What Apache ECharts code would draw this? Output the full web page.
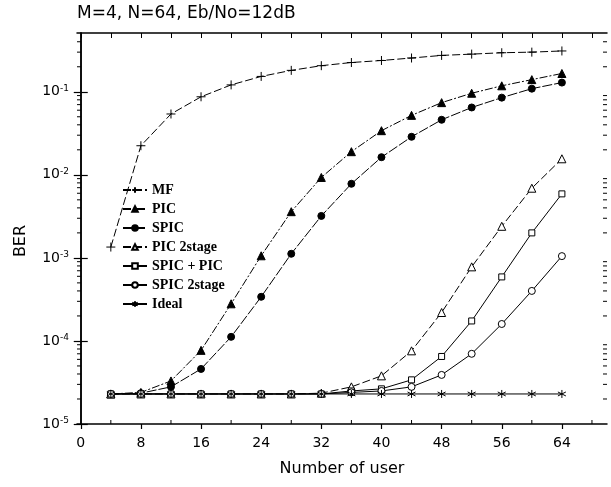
<!DOCTYPE html>
<html>
<head>
<meta charset="utf-8">
<script src="https://cdn.jsdelivr.net/npm/echarts@6/dist/echarts.min.js"></script>
<style>html,body{margin:0;padding:0;background:#fff}#c{width:611px;height:487px}</style>
</head>
<body>
<div id="c"></div>
<script>
// ---- data ----
var users = [4, 8, 12, 16, 20, 24, 28, 32, 36, 40, 44, 48, 52, 56, 60, 64];
var berMF = [1.35e-3, 0.0224, 0.054, 0.087, 0.121, 0.153, 0.181, 0.206, 0.225, 0.238, 0.255, 0.274, 0.284, 0.295, 0.30, 0.31];
var berPIC = [2.3e-5, 2.4e-5, 3.3e-5, 7.7e-5, 2.8e-4, 1.06e-3, 3.6e-3, 9.3e-3, 0.019, 0.034, 0.052, 0.074, 0.096, 0.118, 0.14, 0.166];
var berSPIC = [2.3e-5, 2.35e-5, 2.8e-5, 4.6e-5, 1.12e-4, 3.4e-4, 1.12e-3, 3.2e-3, 7.8e-3, 0.0163, 0.0287, 0.046, 0.0647, 0.085, 0.109, 0.129];
var berPIC2 = [2.3e-5, 2.3e-5, 2.3e-5, 2.3e-5, 2.3e-5, 2.3e-5, 2.3e-5, 2.35e-5, 2.8e-5, 3.8e-5, 7.6e-5, 2.2e-4, 7.8e-4, 2.4e-3, 6.9e-3, 0.0156];
var berSPICPIC = [2.3e-5, 2.3e-5, 2.3e-5, 2.3e-5, 2.3e-5, 2.3e-5, 2.3e-5, 2.3e-5, 2.5e-5, 2.65e-5, 3.4e-5, 6.5e-5, 1.74e-4, 5.9e-4, 2.0e-3, 5.9e-3];
var berSPIC2 = [2.3e-5, 2.3e-5, 2.3e-5, 2.3e-5, 2.3e-5, 2.3e-5, 2.3e-5, 2.3e-5, 2.4e-5, 2.5e-5, 2.8e-5, 3.9e-5, 7.0e-5, 1.6e-4, 4.0e-4, 1.05e-3];
var berIdeal = [2.3e-5, 2.3e-5, 2.3e-5, 2.3e-5, 2.3e-5, 2.3e-5, 2.3e-5, 2.3e-5, 2.3e-5, 2.3e-5, 2.3e-5, 2.3e-5, 2.3e-5, 2.3e-5, 2.3e-5, 2.3e-5];
var seriesNames = ['MF', 'PIC', 'SPIC', 'PIC 2stage', 'SPIC + PIC', 'SPIC 2stage', 'Ideal'];

// ---- ticks ----
var xMajorTicks = [0, 8, 16, 24, 32, 40, 48, 56, 64];
var xMinorTicks = [4, 12, 20, 28, 36, 44, 52, 60, 68];
var xTopTicks = [0, 4, 8, 12, 16, 20, 24, 28, 32, 36, 40, 44, 48, 52, 56, 60, 64, 68];
var yMajorTicks = [1e-5, 1e-4, 1e-3, 1e-2, 1e-1];
var yMinorTicks = [];
for (var d = -5; d <= -1; d++) {
  for (var k = 2; k <= 9; k++) {
    var v = k * Math.pow(10, d);
    if (v < 0.5) yMinorTicks.push(v);
  }
}

function pairs(arr) { return users.map(function (u, i) { return [u, arr[i]]; }); }

var FONT = 'DejaVu Sans';
var XMIN = -0.5, XMAX = 70, YMIN = 1e-5, YMAX = 0.51;

function mkSeries(name, arr, symbol, size, fill, dash) {
  return {
    name: name, type: 'line', data: pairs(arr),
    symbol: symbol, symbolSize: size, showSymbol: true, showAllSymbol: true,
    color: '#000',
    lineStyle: { color: '#000', width: 1, type: dash || 'solid' },
    itemStyle: { color: fill, borderColor: '#000', borderWidth: 1 },
    emphasis: { disabled: true },
    z: 3
  };
}

var plusPath = 'path://M0,-5L0,5M-5,0L5,0';
var starPath = 'path://M0,-5L0,5M-4.33,-2.5L4.33,2.5M-4.33,2.5L4.33,-2.5';

// minor log ticks on left and right frame edges
var yMinorTickSeries = {
  type: 'custom', silent: true, xAxisIndex: 0, yAxisIndex: 0, clip: false, z: 5,
  data: yMinorTicks.map(function (t) { return [t]; }),
  encode: { x: -1, y: -1 },
  renderItem: function (params, api) {
    var t = api.value(0);
    var pl = api.coord([XMIN, t]);
    var pr = api.coord([XMAX, t]);
    var st = { stroke: '#000', lineWidth: 1 };
    return { type: 'group', children: [
      { type: 'line', shape: { x1: pl[0], y1: pl[1], x2: pl[0] + 4, y2: pl[1] }, style: st },
      { type: 'line', shape: { x1: pr[0] - 4, y1: pr[1], x2: pr[0], y2: pr[1] }, style: st }
    ] };
  }
};
// minor inside ticks on bottom edge
var xMinorTickSeries = {
  type: 'custom', silent: true, xAxisIndex: 0, yAxisIndex: 0, clip: false, z: 5,
  data: xMinorTicks.map(function (t) { return [t]; }),
  encode: { x: -1, y: -1 },
  renderItem: function (params, api) {
    var t = api.value(0);
    var pb = api.coord([t, YMIN]);
    return { type: 'line', shape: { x1: pb[0], y1: pb[1], x2: pb[0], y2: pb[1] - 4 }, style: { stroke: '#000', lineWidth: 1 } };
  }
};

var chart = echarts.init(document.getElementById('c'), null, { renderer: 'canvas' });
chart.setOption({
  animation: false,
  backgroundColor: '#fff',
  title: {
    text: 'M=4, N=64, Eb/No=12dB', left: 72, top: 0,
    textStyle: { fontFamily: FONT, fontSize: 17, fontWeight: 'normal', color: '#000' }
  },
  legend: {
    orient: 'vertical', left: 117, top: 178,
    itemWidth: 24, itemHeight: 7, itemGap: 5,
    data: seriesNames,
    textStyle: { fontFamily: 'Liberation Serif', fontWeight: 'bold', fontSize: 14, lineHeight: 14, color: '#000' }
  },
  graphic: [{
    type: 'text', x: 21, y: 241, rotation: Math.PI / 2,
    style: { text: 'BER', fontFamily: FONT, fontSize: 16, fill: '#000', align: 'center', verticalAlign: 'middle' }
  }],
  grid: { left: 77, right: 4, top: 33, bottom: 63, containLabel: false },
  xAxis: [{
    type: 'value', min: XMIN, max: XMAX, position: 'bottom',
    name: 'Number of user', nameLocation: 'middle', nameGap: 37,
    nameTextStyle: { fontFamily: FONT, fontSize: 16, color: '#000' },
    axisLine: { show: true, lineStyle: { color: '#000', width: 1.5 } },
    axisTick: { show: true, inside: false, length: 5, customValues: xMajorTicks, lineStyle: { color: '#000', width: 1.2 } },
    axisLabel: { show: true, customValues: xMajorTicks, margin: 12, fontFamily: FONT, fontSize: 14, color: '#000' },
    splitLine: { show: false }
  }, {
    type: 'value', min: XMIN, max: XMAX, position: 'top',
    axisLine: { show: true, lineStyle: { color: '#000', width: 1.5 } },
    axisTick: { show: true, inside: true, length: 5, customValues: xTopTicks, lineStyle: { color: '#000', width: 1 } },
    axisLabel: { show: false }, splitLine: { show: false }
  }],
  yAxis: [{
    type: 'log', logBase: 10, min: YMIN, max: YMAX, position: 'left',
    axisLine: { show: true, lineStyle: { color: '#000', width: 1.5 } },
    axisTick: { show: true, inside: true, length: 7, customValues: yMajorTicks, lineStyle: { color: '#000', width: 1.2 } },
    axisLabel: {
      show: true, customValues: yMajorTicks, margin: 8,
      formatter: function (val) {
        var e = Math.round(Math.log10(val));
        return '{b|10}{s|' + e + '}';
      },
      rich: {
        b: { fontFamily: FONT, fontSize: 14, color: '#000', lineHeight: 16 },
        s: { fontFamily: FONT, fontSize: 9, color: '#000', verticalAlign: 'top', lineHeight: 16, padding: [0, 0, 8, 0] }
      }
    },
    splitLine: { show: false }
  }, {
    type: 'log', logBase: 10, min: YMIN, max: YMAX, position: 'right',
    axisLine: { show: true, lineStyle: { color: '#000', width: 1.5 } },
    axisTick: { show: true, inside: true, length: 7, customValues: yMajorTicks, lineStyle: { color: '#000', width: 1.2 } },
    axisLabel: { show: false }, splitLine: { show: false }
  }],
  series: [
    mkSeries('MF', berMF, plusPath, 9, '#000', [8, 3]),
    mkSeries('PIC', berPIC, 'triangle', 8, '#000', [8, 2, 2, 2]),
    mkSeries('SPIC', berSPIC, 'circle', 7, '#000', [10, 2]),
    mkSeries('PIC 2stage', berPIC2, 'triangle', 8, '#fff', [8, 3]),
    mkSeries('SPIC + PIC', berSPICPIC, 'rect', 6, '#fff', 'solid'),
    mkSeries('SPIC 2stage', berSPIC2, 'circle', 7, '#fff', 'solid'),
    mkSeries('Ideal', berIdeal, starPath, 8, '#000', 'solid'),
    yMinorTickSeries,
    xMinorTickSeries
  ]
});
</script>
</body>
</html>
